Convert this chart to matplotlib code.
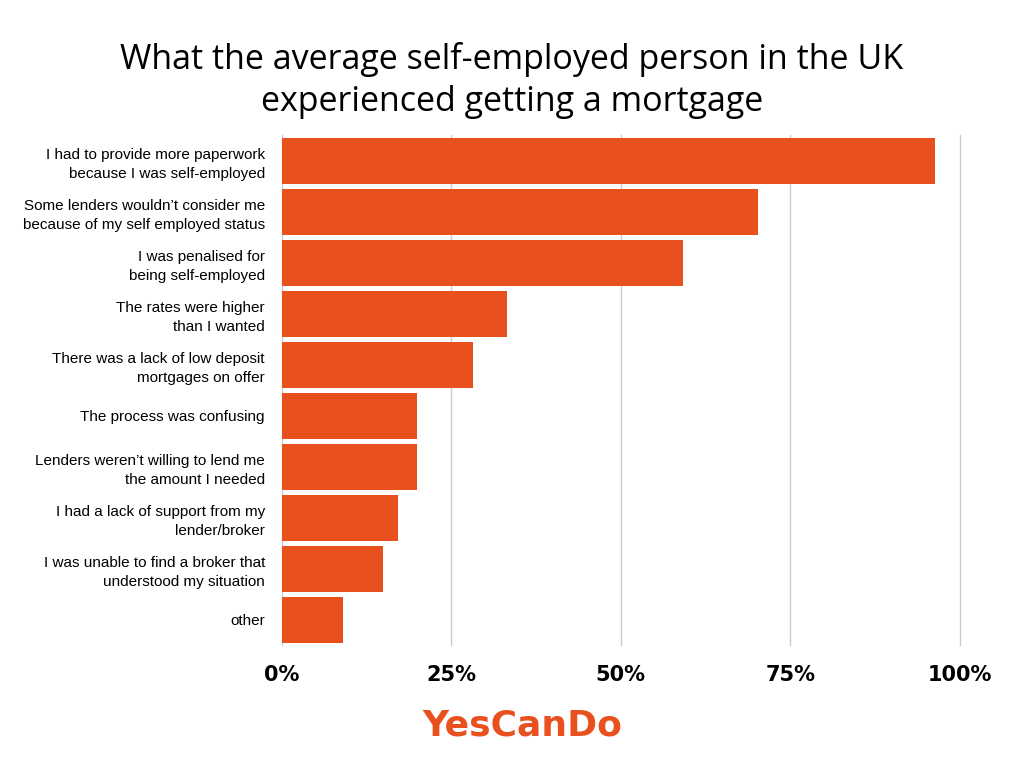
import matplotlib.pyplot as plt
import numpy as np

# data
categories = [
    "I had to provide more paperwork\nbecause I was self-employed",
    "Some lenders wouldn\u2019t consider me\nbecause of my self employed status",
    "I was penalised for\nbeing self-employed",
    "The rates were higher\nthan I wanted",
    "There was a lack of low deposit\nmortgages on offer",
    "The process was confusing",
    "Lenders weren\u2019t willing to lend me\nthe amount I needed",
    "I had a lack of support from my\nlender/broker",
    "I was unable to find a broker that\nunderstood my situation",
    "other",
]
values = [96.3, 70.2, 59.1, 33.2, 28.2, 20.0, 20.0, 17.1, 15.0, 9.1]
ticks = [0, 25, 50, 75, 100]
tick_labels = ["0%", "25%", "50%", "75%", "100%"]

bar_color = "#E8501E"

fig = plt.figure(figsize=(10.24, 7.68), dpi=100)
ax = fig.add_axes([0.275, 0.16, 0.6625, 0.664])

y = np.arange(len(categories))
ax.barh(y, values, height=0.9, color=bar_color, zorder=3)
ax.set_ylim(len(categories) - 0.5, -0.5)
ax.set_xlim(0, 100)
ax.set_yticks(y)
ax.set_yticklabels(categories, fontsize=11, fontfamily="Liberation Sans", linespacing=1.45)
ax.set_xticks(ticks)
ax.set_xticklabels(tick_labels, fontsize=15, fontweight="bold", fontfamily="DejaVu Sans")
ax.tick_params(axis="both", length=0)
ax.tick_params(axis="x", pad=14)
ax.tick_params(axis="y", pad=12)
ax.grid(axis="x", color="#cccccc", linewidth=1, zorder=0)
for gl in ax.get_xgridlines():
    gl.set_clip_on(False)
for s in ax.spines.values():
    s.set_visible(False)

fig.text(0.50, 0.895, "What the average self-employed person in the UK\nexperienced getting a mortgage",
         ha="center", va="center", fontsize=24.5, fontfamily="Open Sans", linespacing=1.3)
fig.text(0.51, 0.055, "YesCanDo", ha="center", va="center", fontsize=26,
         fontweight="heavy", color=bar_color, fontfamily="DejaVu Sans")

fig.savefig("out.png", dpi=100)
